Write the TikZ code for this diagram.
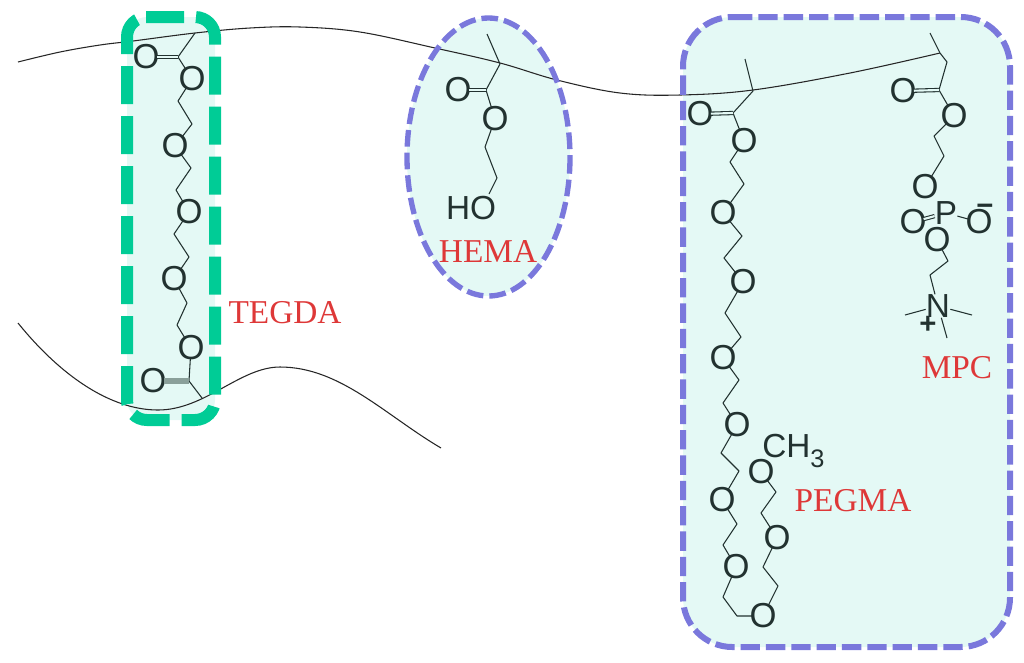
\documentclass[tikz,border=0pt]{standalone}
\usepackage{fontspec}
\setmainfont{Liberation Sans}
\newfontfamily\labelfont{Liberation Serif}
\definecolor{tealdash}{RGB}{0,204,150}
\definecolor{bluedash}{RGB}{122,120,220}
\definecolor{softfill}{RGB}{228,249,245}
\definecolor{inkatom}{RGB}{34,50,48}
\definecolor{labelred}{RGB}{222,56,56}
\definecolor{bargray}{RGB}{138,160,154}
\tikzset{
  atomO/.style={circle,inner sep=-4pt,text=inkatom,font=\fontsize{26}{26}\selectfont},
  atomT/.style={inner sep=0pt,text=inkatom,font=\fontsize{25}{25}\selectfont},
  chargemark/.style={inner sep=0pt,text=inkatom,font=\bfseries\fontsize{22}{22}\selectfont},
  namelabel/.style={inner sep=0pt,text=labelred,font=\labelfont\fontsize{25}{25}\selectfont},
  bond/.style={draw=inkatom,line width=0.8pt,line join=round},
  dblbond/.style={draw=inkatom,line width=0.8pt,double=softfill,double distance=1.6pt},
  barbond/.style={draw=bargray,line width=5pt},
  backbone/.style={draw=black!85,line width=0.8pt},
  tealbox/.style={draw=tealdash,line width=9pt,dash pattern=on 28.5pt off 9pt},
  bluebox/.style={draw=bluedash,line width=4.5pt,dash pattern=on 14.5pt off 4.5pt},
  blueoval/.style={draw=bluedash,line width=4pt,dash pattern=on 12.5pt off 4.5pt}
}
\begin{document}
\begin{tikzpicture}[x=0.75pt,y=-0.75pt]
\useasboundingbox (0,0) rectangle (1024,662);
% backgrounds
\fill[softfill,rounded corners=15pt] (146,17) -- (215,17) -- (215,420) -- (127,420) -- (127,17) -- (146,17);
\fill[softfill] (488.5,157) ellipse [x radius=81.5,y radius=139];
\fill[softfill,rounded corners=37pt] (733,17) -- (1010,17) -- (1010,647) -- (683,647) -- (683,17) -- (733,17);
% backbones
\draw[backbone] plot[smooth,tension=0.6] coordinates {(18,62) (60,52) (100,45) (133,41) (195,33) (250,28) (300,27) (360,32) (435,48) (500,63) (557,80) (620,93) (680,95) (753,90) (850,73) (940,53)};
\draw[backbone] (18,323) .. controls (60,375) and (110,410) .. (158,410) .. controls (205,410) and (240,367) .. (280,367) .. controls (340,367) and (385,415) .. (441,448);
% dashed outlines
\draw[tealbox,rounded corners=15pt] (146,17) -- (215,17) -- (215,420) -- (127,420) -- (127,17) -- (146,17);
\draw[blueoval] (488.5,157) ellipse [x radius=81.5,y radius=139];
\draw[bluebox,rounded corners=37pt] (733,17) -- (1010,17) -- (1010,647) -- (683,647) -- (683,17) -- (733,17);
% ---------- TEGDA ----------
\node[atomO] (ta) at (146,57) {O};
\node[atomO] (tb) at (192,79) {O};
\node[atomO] (tc) at (175,146) {O};
\node[atomO] (td) at (189,212) {O};
\node[atomO] (te) at (174,279) {O};
\node[atomO] (tf) at (191,348) {O};
\node[atomO] (tg) at (153,381) {O};
\coordinate (t0) at (195,33);
\coordinate (t1) at (178,57);
\coordinate (t2) at (178,101);
\coordinate (t3) at (192,124);
\coordinate (t4) at (191,168);
\coordinate (t5) at (176,190);
\coordinate (t6) at (174,234);
\coordinate (t7) at (189,257);
\coordinate (t8) at (187,303);
\coordinate (t9) at (177,325);
\coordinate (t10) at (189,381);
\coordinate (t11) at (202,398);
\draw[bond] (t0) -- (t1) -- (tb) -- (t2) -- (t3) -- (tc) -- (t4) -- (t5) -- (td) -- (t6) -- (t7) -- (te) -- (t8) -- (t9) -- (tf) -- (t10) -- (t11);
\draw[dblbond] (ta) -- (t1);
\draw[barbond] (tg) -- (t10);
% ---------- HEMA ----------
\node[atomO] (ha) at (458,90) {O};
\node[atomO] (hb) at (495,119) {O};
\node[atomT] (hc) at (471,208) {HO};
\coordinate (h0) at (487,34);
\coordinate (h1) at (500,64);
\coordinate (h2) at (486,90);
\coordinate (h3) at (485,147);
\coordinate (h4) at (497,178);
\coordinate (h5) at (489,194);
\draw[bond] (h0) -- (h1) -- (h2) -- (hb) -- (h3) -- (h4) -- (h5);
\draw[dblbond] (ha) -- (h2);
% ---------- PEGMA ----------
\node[atomO] (pa) at (700,114) {O};
\node[atomO] (pb) at (744,141) {O};
\node[atomO] (pc) at (723,213) {O};
\node[atomO] (pd) at (743,282) {O};
\node[atomO] (pe) at (723,358) {O};
\node[atomO] (pf) at (737,425) {O};
\node[atomO] (pg) at (722,500) {O};
\node[atomO] (ph) at (736,567) {O};
\node[atomO] (pi) at (763,616) {O};
\node[atomO] (pj) at (777,538) {O};
\node[atomO] (pk) at (761,472) {O};
\node[atomT,anchor=west] (pm) at (762,451) {CH\raisebox{-0.3em}{\fontsize{19}{19}\selectfont 3}};
\coordinate (p0) at (745,59);
\coordinate (p1) at (753,91);
\coordinate (p2) at (733,113);
\coordinate (p3) at (730,162);
\coordinate (p4) at (744,184);
\coordinate (p5) at (742,236);
\coordinate (p6) at (724,258);
\coordinate (p7) at (725,313);
\coordinate (p8) at (741,337);
\coordinate (p9) at (739,380);
\coordinate (p10) at (723,403);
\coordinate (p11) at (721,453);
\coordinate (p12) at (739,471);
\coordinate (p13) at (737,524);
\coordinate (p14) at (723,545);
\coordinate (p15) at (723,597);
\coordinate (p16) at (737,616);
\coordinate (p17) at (778,586);
\coordinate (p18) at (763,567);
\coordinate (p19) at (761,513);
\coordinate (p20) at (776,492);
\draw[bond] (p0) -- (p1) -- (p2) -- (pb) -- (p3) -- (p4) -- (pc) -- (p5) -- (p6) -- (pd) -- (p7) -- (p8) -- (pe) -- (p9) -- (p10) -- (pf) -- (p11) -- (p12) -- (pg) -- (p13) -- (p14) -- (ph) -- (p15) -- (p16) -- (pi) -- (p17) -- (p18) -- (pj) -- (p19) -- (p20) -- (pk);
\draw[dblbond] (pa) -- (p2);
% ---------- MPC ----------
\node[atomO] (ma) at (903,91) {O};
\node[atomO] (mb) at (954,116) {O};
\node[atomO] (mc) at (925,187) {O};
\node[atomT] (mp) at (946,213) {P};
\node[atomO] (md) at (913,222) {O};
\node[atomO] (me) at (979,222) {O};
\node[atomO] (mf) at (937,240) {O};
\node[atomT] (mn) at (938,306) {N};
\node[chargemark] (mminus) at (985,210) {−};
\node[chargemark] (mplus) at (928,325) {+};
\coordinate (m0) at (930,33);
\coordinate (m1) at (940,53);
\coordinate (m2) at (947,62);
\coordinate (m3) at (939,90);
\coordinate (m4) at (934,136);
\coordinate (m5) at (944,156);
\coordinate (m6) at (948,261);
\coordinate (m7) at (930,275);
\coordinate (m8) at (905,315);
\coordinate (m9) at (972,315);
\coordinate (m10) at (947,338);
\draw[bond] (m0) -- (m1) -- (m2) -- (m3) -- (mb) -- (m4) -- (m5) -- (mc);
\draw[bond] (mf) -- (m6) -- (m7) -- (mn);
\draw[bond] (mp) -- (me);
\draw[bond] (mn) -- (m8);
\draw[bond] (mn) -- (m9);
\draw[bond] (mn) -- (m10);
\draw[dblbond] (ma) -- (m3);
\draw[dblbond] (md) -- (mp);
% ---------- names ----------
\node[namelabel] (ltegda) at (285,313) {TEGDA};
\node[namelabel] (lhema) at (488,251) {HEMA};
\node[namelabel] (lpegma) at (853,501) {PEGMA};
\node[namelabel] (lmpc) at (957,368) {MPC};
\end{tikzpicture}
\end{document}
